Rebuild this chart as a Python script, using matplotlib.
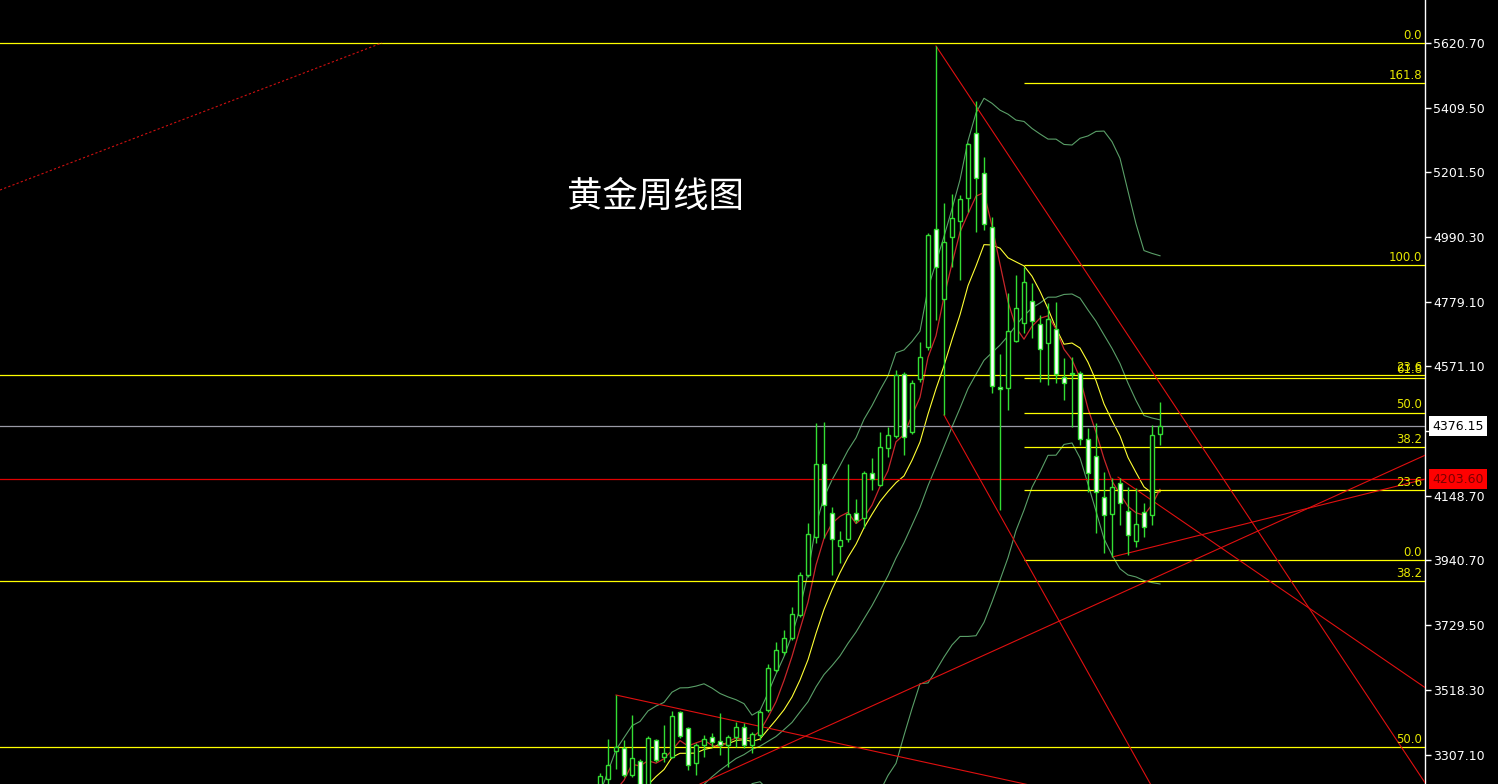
import numpy as np
import pandas as pd
import matplotlib
matplotlib.use("Agg")
import matplotlib.pyplot as plt

# 周线数据
closes_before = [2650, 2633, 2648, 2622, 2621, 2640, 2690, 2703, 2770, 2798,
                 2861, 2883, 2936, 2858, 2910, 2984, 3022, 3085, 3037]  # 图外（低于画面）只用于指标

opens = [3040, 3228, 3320, 3330, 3242, 3288, 3210, 3356, 3301, 3301,
         3447, 3395, 3281, 3340, 3366, 3353, 3340, 3366, 3398, 3340,
         3372, 3453, 3583, 3642, 3687, 3762, 3892, 4016, 4253, 4094,
         3986, 4009, 4094, 4077, 4223, 4184, 4305, 4344, 4545, 4357,
         4529, 4633, 5016, 4789, 4990, 5042, 5117, 5328, 5198, 5023,
         4503, 4500, 4652, 4711, 4782, 4708, 4646, 4691, 4535, 4548,
         4548, 4334, 4279, 4146, 4090, 4191, 4100, 4003, 4097, 4087,
         4350]
highs = [3250, 3359, 3502, 3356, 3437, 3294, 3369, 3359, 3405, 3450,
         3450, 3398, 3346, 3372, 3379, 3444, 3372, 3414, 3411, 3382,
         3453, 3603, 3674, 3713, 3788, 3902, 4061, 4386, 4389, 4113,
         4035, 4253, 4139, 4230, 4272, 4357, 4373, 4558, 4552, 4526,
         4649, 5003, 5611, 5101, 5130, 5127, 5296, 5432, 5250, 5055,
         4610, 4808, 4867, 4893, 4841, 4737, 4776, 4779, 4597, 4600,
         4555, 4370, 4386, 4227, 4207, 4207, 4178, 4175, 4126, 4379,
         4454]
lows = [2960, 3200, 3262, 3236, 3236, 3193, 3205, 3284, 3284, 3297,
        3362, 3258, 3242, 3301, 3333, 3307, 3268, 3333, 3330, 3314,
        3356, 3447, 3577, 3632, 3681, 3756, 3886, 3996, 4012, 3892,
        3931, 3999, 4061, 4045, 4168, 4181, 4275, 4337, 4282, 4350,
        4519, 4623, 4721, 4412, 4893, 4851, 5072, 5007, 5013, 4483,
        4103, 4428, 4649, 4678, 4662, 4519, 4509, 4516, 4461, 4373,
        4314, 4162, 4029, 3964, 3951, 4055, 3957, 3983, 4016, 4055,
        4314]
closes = [3238, 3275, 3333, 3242, 3297, 3210, 3362, 3291, 3314, 3434,
          3369, 3275, 3340, 3359, 3349, 3340, 3366, 3398, 3340, 3375,
          3447, 3590, 3648, 3687, 3765, 3892, 4025, 4253, 4120, 4009,
          4006, 4090, 4071, 4223, 4204, 4308, 4347, 4542, 4340, 4516,
          4600, 4997, 4893, 4974, 5052, 5114, 5293, 5182, 5033, 4506,
          4496, 4685, 4760, 4844, 4717, 4626, 4724, 4545, 4516, 4545,
          4334, 4223, 4162, 4087, 4178, 4126, 4022, 4058, 4048, 4347,
          4376.15]

last_price = 4376.15
red_level = 4203.60

y_ticks = [5620.70, 5409.50, 5201.50, 4990.30, 4779.10, 4571.10, 4359.90,
           4148.70, 3940.70, 3729.50, 3518.30, 3307.10]

# 斐波那契
big_fib_high, big_fib_low = 5620.7, 1046.0
big_fib_levels = [0.0, 23.6, 38.2, 50.0]
small_fib_low, small_fib_high = 3941.0, 4899.0
small_fib_levels = [0.0, 23.6, 38.2, 50.0, 61.8, 100.0, 161.8]
small_fib_start = 53

# 趋势线 (柱序号, 价格)
trend_lines = [
    ((42, 5611), (60, 4906)),
    ((43, 4412), (60, 3622)),
    ((64.75, 4210), (103.2, 3525)),
    ((64.1, 3951), (103.2, 4204)),
    ((12.5, 3213), (103.2, 4282)),
    ((2, 3502), (53.1, 3213)),
]
dotted_line = ((-75, 5143), (-27.25, 5621))

# 指标
c_all = pd.Series(closes_before + closes, dtype=float)
x_all = np.arange(-len(closes_before), len(closes))
ma5 = c_all.rolling(5).mean()
ma10 = c_all.rolling(10).mean()
mid = c_all.rolling(20).mean()
sd = c_all.rolling(20).std(ddof=0)
upper = mid + 2 * sd
lower = mid - 2 * sd
keep = x_all >= 0

fig = plt.figure(figsize=(14.98, 7.84), dpi=100, facecolor="black")
ax = fig.add_axes([0, 0, 1425 / 1498, 1])
ax.set_facecolor("black")
ax.set_xlim(-75, 103.125)
ax.set_ylim(3212.9, 5760.4)

# 指标线
bb_col = "#5a9f68"
ax.plot(x_all[keep], upper[keep], color=bb_col, lw=0.8, zorder=2)
ax.plot(x_all[keep], mid[keep], color=bb_col, lw=0.8, zorder=2)
ax.plot(x_all[keep], lower[keep], color=bb_col, lw=0.8, zorder=2)
ax.plot(x_all[keep], ma10[keep], color="#ffff33", lw=0.8, zorder=2)
ax.plot(x_all[keep], ma5[keep], color="#c8262a", lw=0.9, zorder=2)

# K线
green = "#33dd33"
xs = np.arange(len(closes))
ax.vlines(xs, lows, highs, color=green, lw=1, zorder=4)
for i in xs:
    o, c = opens[i], closes[i]
    fill = "black" if c >= o else "white"
    h = max(abs(c - o), 2.5)
    ax.bar(i, h, bottom=min(o, c), width=0.62, facecolor=fill,
           edgecolor=green, linewidth=1, zorder=5)

# 水平线
for lvl in big_fib_levels:
    p = big_fib_high - lvl / 100 * (big_fib_high - big_fib_low)
    ax.axhline(p, color="#ffff00", lw=0.9, zorder=3)
    ax.text(102.75, p + 4, f"{lvl:.1f}", color="#e8e800", fontsize=8.5,
            ha="right", va="bottom", zorder=6)
for lvl in small_fib_levels:
    p = small_fib_low + lvl / 100 * (small_fib_high - small_fib_low)
    ax.hlines(p, small_fib_start, 103.125, color="#ffff00", lw=0.9, zorder=3)
    ax.text(102.75, p + 4, f"{lvl:.1f}", color="#e8e800", fontsize=8.5,
            ha="right", va="bottom", zorder=6)

ax.axhline(last_price, color="#9a9aa6", lw=0.9, zorder=3)
ax.axhline(red_level, color="#e00000", lw=0.9, zorder=3)

for (x1, y1), (x2, y2) in trend_lines:
    k = (y2 - y1) / (x2 - x1)
    xx = np.array([x1, 103.2])
    ax.plot(xx, y1 + k * (xx - x1), color="#e01010", lw=0.8, zorder=3)
(x1, y1), (x2, y2) = dotted_line
ax.plot([x1, x2], [y1, y2], color="#d01010", lw=0.8, ls=(0, (2, 2)), zorder=3)

# 标题
ax.text(0.460, 0.749, "黄金周线图", transform=ax.transAxes, color="white",
        fontsize=25.5, ha="center", va="center",
        family=["Noto Sans CJK SC", "DejaVu Sans"])

# 右侧价格轴
for s in ["top", "bottom", "left"]:
    ax.spines[s].set_visible(False)
ax.spines["right"].set_color("white")
ax.spines["right"].set_linewidth(1)
ax.set_xticks([])
ax.yaxis.tick_right()
ax.set_yticks(y_ticks)
ax.set_yticklabels([f"{v:.2f}" for v in y_ticks])
ax.tick_params(axis="y", colors="white", labelcolor="white", labelsize=9,
               length=4, width=1, pad=2)

ax.annotate(f"{last_price:.2f}", xy=(1, last_price), xycoords=("axes fraction", "data"),
            xytext=(7, 0), textcoords="offset pixels", ha="left", va="center",
            color="black", fontsize=9, annotation_clip=False, zorder=10,
            bbox=dict(boxstyle="square,pad=0.25", facecolor="white", edgecolor="none"))
ax.annotate(f"{red_level:.2f}", xy=(1, red_level), xycoords=("axes fraction", "data"),
            xytext=(7, 0), textcoords="offset pixels", ha="left", va="center",
            color="#7a0000", fontsize=9, annotation_clip=False, zorder=10,
            bbox=dict(boxstyle="square,pad=0.25", facecolor="#ff0000", edgecolor="none"))

fig.savefig("out.png", dpi=100, facecolor="black")
